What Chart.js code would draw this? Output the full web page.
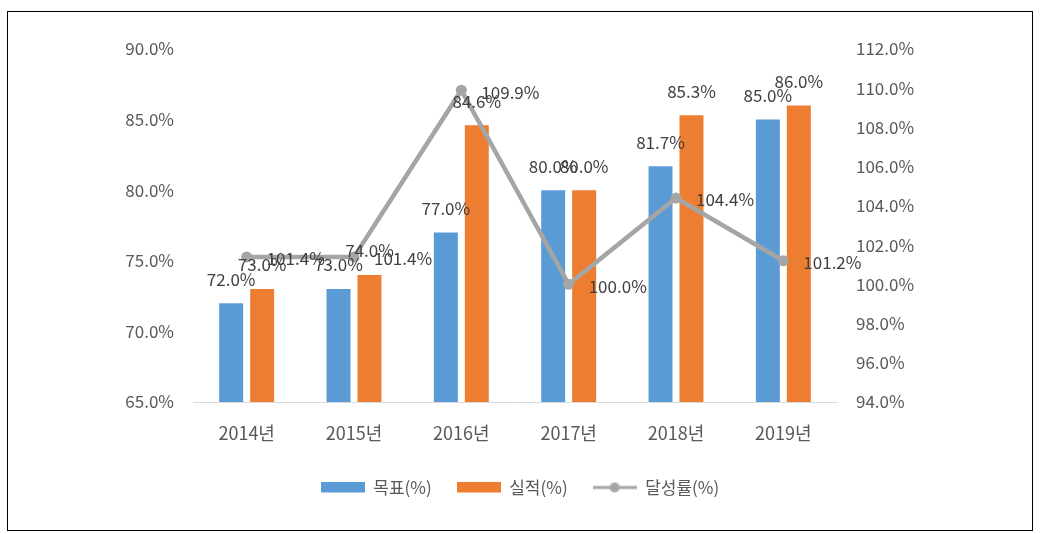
<!DOCTYPE html>
<html>
<head>
<meta charset="utf-8">
<script src="https://cdn.jsdelivr.net/npm/chart.js@4"></script>
<style>
  body { margin: 0; background: #fff; }
  .box { position: absolute; left: 7px; top: 11px; width: 1024px; height: 518px; border: 1px solid #000; }
</style>
</head>
<body>
<div class="box"><canvas id="myChart" width="1024" height="518"></canvas></div>
<script>
const years = ['2014년', '2015년', '2016년', '2017년', '2018년', '2019년'];
const target = [72.0, 73.0, 77.0, 80.0, 81.7, 85.0];   // 목표(%)
const actual = [73.0, 74.0, 84.6, 80.0, 85.3, 86.0];   // 실적(%)
const rate = [101.4, 101.4, 109.9, 100.0, 104.4, 101.2]; // 달성률(%)

const FONT = '"Noto Sans CJK KR", "Noto Sans", sans-serif';
const pct = (v) => Number(v).toFixed(1) + '%';

// legend icons like excel
const makeIcon = (kind, color) => {
    const c = document.createElement('canvas');
    c.width = 44; c.height = 12;
    const g = c.getContext('2d');
    if (kind === 'bar') {
        g.fillStyle = color;
        g.fillRect(0, 0, 44, 11);
    } else {
        g.strokeStyle = color;
        g.lineWidth = 3;
        g.beginPath(); g.moveTo(0, 6); g.lineTo(44, 6); g.stroke();
        g.fillStyle = color;
        g.beginPath(); g.arc(22, 6, 5, 0, Math.PI * 2); g.fill();
    }
    return c;
};
const icons = [makeIcon('bar', '#5b9bd5'), makeIcon('bar', '#ed7d31'), makeIcon('line', '#a5a5a5')];

const valueLabels = {
    id: 'valueLabels',
    afterDatasetsDraw(chart) {
        const ctx = chart.ctx;
        ctx.save();
        ctx.font = '17px ' + FONT;
        ctx.fillStyle = '#404040';
        ctx.textBaseline = 'middle';
        chart.data.datasets.forEach((ds, i) => {
            const meta = chart.getDatasetMeta(i);
            meta.data.forEach((el, j) => {
                if (ds.type === 'line') {
                    ctx.textAlign = 'left';
                    ctx.fillText(pct(ds.data[j]), el.x + 20, el.y + 2);
                } else {
                    ctx.textAlign = 'center';
                    ctx.fillText(pct(ds.data[j]), el.x, el.y - 24);
                }
            });
        });
        ctx.restore();
    }
};

const ctx = document.getElementById('myChart');
const myChart = new Chart(ctx, {
    type: 'bar',
    data: {
        labels: years,
        datasets: [{
            label: '목표(%)',
            data: target,
            backgroundColor: '#5b9bd5',
            yAxisID: 'y',
            order: 1,
            categoryPercentage: 0.577,
            barPercentage: 0.774
        }, {
            label: '실적(%)',
            data: actual,
            backgroundColor: '#ed7d31',
            yAxisID: 'y',
            order: 1,
            categoryPercentage: 0.577,
            barPercentage: 0.774
        }, {
            type: 'line',
            label: '달성률(%)',
            data: rate,
            borderColor: '#a5a5a5',
            backgroundColor: '#a5a5a5',
            borderWidth: 4.5,
            pointRadius: 5.5,
            pointBackgroundColor: '#a5a5a5',
            pointBorderWidth: 0,
            tension: 0,
            yAxisID: 'y1',
            order: 0
        }]
    },
    options: {
        responsive: false,
        animation: false,
        layout: { padding: { top: 37, bottom: 24, left: 0, right: 0 } },
        scales: {
            x: {
                grid: { display: false, drawTicks: false },
                border: { display: true, color: '#d9d9d9', width: 1 },
                ticks: { color: '#595959', font: { family: FONT, size: 18 }, padding: 20 },
                afterFit: (s) => { s.height = 52; }
            },
            y: {
                position: 'left',
                min: 65, max: 90,
                grid: { display: false, drawTicks: false },
                border: { display: false },
                ticks: { stepSize: 5, color: '#595959', font: { family: FONT, size: 17 }, padding: 19, callback: (v) => pct(v) },
                afterFit: (s) => { s.width = 185; }
            },
            y1: {
                position: 'right',
                min: 94, max: 112,
                grid: { display: false, drawTicks: false },
                border: { display: false },
                ticks: { stepSize: 2, color: '#595959', font: { family: FONT, size: 17 }, padding: 19, callback: (v) => pct(v) },
                afterFit: (s) => { s.width = 195; }
            }
        },
        plugins: {
            tooltip: { enabled: false },
            legend: {
                position: 'bottom',
                labels: {
                    usePointStyle: true,
                    pointStyleWidth: 44,
                    boxHeight: 12,
                    padding: 25,
                    color: '#595959',
                    font: { family: FONT, size: 17 },
                    generateLabels: (chart) => {
                        const items = Chart.defaults.plugins.legend.labels.generateLabels(chart);
                        items.forEach((it) => { it.pointStyle = icons[it.datasetIndex]; });
                        return items;
                    },
                    sort: (a, b) => a.datasetIndex - b.datasetIndex
                }
            }
        }
    },
    plugins: [valueLabels]
});
</script>
</body>
</html>
